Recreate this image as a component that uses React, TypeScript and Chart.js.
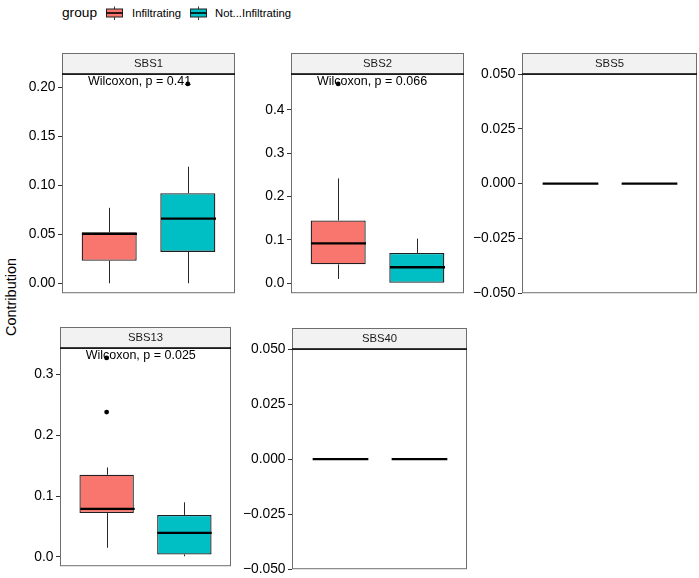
import React, { useEffect, useRef } from 'react';
import { Chart, registerables } from 'chart.js';

Chart.register(...registerables);

const FONT = "'Liberation Sans', Arial, Helvetica, sans-serif";

const categories = ['Infiltrating', 'Not...Infiltrating'];
const groupColors = ['#F8766D', '#00BFC4'];
const panelNames = ['SBS1', 'SBS2', 'SBS5', 'SBS13', 'SBS40'];

// five-number summaries: [lower whisker, q1, median, q3, upper whisker]
const sbs1Infiltrating = [0.0, 0.023, 0.0505, 0.052, 0.077];
const sbs1NotInfiltrating = [0.0, 0.032, 0.066, 0.092, 0.119];
const sbs1OutliersInfiltrating: number[] = [];
const sbs1OutliersNotInfiltrating = [0.2035];

const sbs2Infiltrating = [0.01, 0.0436, 0.092, 0.145, 0.242];
const sbs2NotInfiltrating = [0.0, 0.0, 0.037, 0.07, 0.103];
const sbs2OutliersInfiltrating = [0.46];
const sbs2OutliersNotInfiltrating: number[] = [];

const sbs5Infiltrating = [0, 0, 0, 0, 0];
const sbs5NotInfiltrating = [0, 0, 0, 0, 0];

const sbs13Infiltrating = [0.015, 0.072, 0.079, 0.135, 0.147];
const sbs13NotInfiltrating = [0.001, 0.004, 0.0396, 0.069, 0.0897];
const sbs13OutliersInfiltrating = [0.327, 0.238];
const sbs13OutliersNotInfiltrating: number[] = [];

const sbs40Infiltrating = [0, 0, 0, 0, 0];
const sbs40NotInfiltrating = [0, 0, 0, 0, 0];

const sbs1Ticks = [0, 0.05, 0.1, 0.15, 0.2];
const sbs1TickLabels = ['0.00', '0.05', '0.10', '0.15', '0.20'];
const sbs2Ticks = [0, 0.1, 0.2, 0.3, 0.4];
const sbs2TickLabels = ['0.0', '0.1', '0.2', '0.3', '0.4'];
const zeroTicks = [-0.05, -0.025, 0, 0.025, 0.05];
const zeroTickLabels = ['\u22120.050', '\u22120.025', '0.000', '0.025', '0.050'];
const sbs13Ticks = [0, 0.1, 0.2, 0.3];
const sbs13TickLabels = ['0.0', '0.1', '0.2', '0.3'];

const pLabels = ['Wilcoxon, p = 0.41', 'Wilcoxon, p = 0.066', '', 'Wilcoxon, p = 0.025', ''];

interface Frame { l: number; r: number; st: number; t: number; b: number }
interface PanelSpec {
  name: string;
  groups: number[][];
  outliers: number[][];
  ticks: number[];
  tickLabels: string[];
  pLabel: string;
  frame: Frame;
}

const frames: Frame[] = [
  { l: 62, r: 236.5, st: 53, t: 74, b: 294.3 },
  { l: 291, r: 466, st: 53, t: 74, b: 294.3 },
  { l: 522, r: 697, st: 53, t: 74, b: 294 },
  { l: 60, r: 233.3, st: 326.7, t: 347.7, b: 567.3 },
  { l: 291.7, r: 466.7, st: 328.3, t: 349.3, b: 570 },
];

const panels: PanelSpec[] = [
  {
    name: panelNames[0],
    groups: [sbs1Infiltrating, sbs1NotInfiltrating],
    outliers: [sbs1OutliersInfiltrating, sbs1OutliersNotInfiltrating],
    ticks: sbs1Ticks, tickLabels: sbs1TickLabels, pLabel: pLabels[0], frame: frames[0],
  },
  {
    name: panelNames[1],
    groups: [sbs2Infiltrating, sbs2NotInfiltrating],
    outliers: [sbs2OutliersInfiltrating, sbs2OutliersNotInfiltrating],
    ticks: sbs2Ticks, tickLabels: sbs2TickLabels, pLabel: pLabels[1], frame: frames[1],
  },
  {
    name: panelNames[2],
    groups: [sbs5Infiltrating, sbs5NotInfiltrating],
    outliers: [[], []],
    ticks: zeroTicks, tickLabels: zeroTickLabels, pLabel: pLabels[2], frame: frames[2],
  },
  {
    name: panelNames[3],
    groups: [sbs13Infiltrating, sbs13NotInfiltrating],
    outliers: [sbs13OutliersInfiltrating, sbs13OutliersNotInfiltrating],
    ticks: sbs13Ticks, tickLabels: sbs13TickLabels, pLabel: pLabels[3], frame: frames[3],
  },
  {
    name: panelNames[4],
    groups: [sbs40Infiltrating, sbs40NotInfiltrating],
    outliers: [[], []],
    ticks: zeroTicks, tickLabels: zeroTickLabels, pLabel: pLabels[4], frame: frames[4],
  },
];

const AX = 58;
const PAD_BOTTOM = 10;

function Panel({ spec }: { spec: PanelSpec }) {
  const ref = useRef<HTMLCanvasElement | null>(null);
  const f = spec.frame;
  const left = Math.round(f.l) - AX;
  const top = Math.round(f.st) - 2;
  const width = Math.round(f.r) - Math.round(f.l) + AX + 2;
  const height = Math.round(f.b) - top + PAD_BOTTOM;
  const padTop = Math.round(f.t) - top;
  const stripH = Math.round(f.t) - Math.round(f.st);

  useEffect(() => {
    if (!ref.current) return;
    const all = [...spec.groups.flat(), ...spec.outliers.flat()];
    const lo = Math.min(...all);
    const hi = Math.max(...all);
    const span = hi - lo;
    const yMin = span === 0 ? lo - 0.05 : lo - 0.05 * span;
    const yMax = span === 0 ? hi + 0.05 : hi + 0.05 * span;

    const panelPlugin = {
      id: 'panel_' + spec.name,
      afterDatasetsDraw(chart: any) {
        const { ctx, chartArea: a } = chart;
        const xs = chart.scales.x;
        const ys = chart.scales.y;
        const half = xs.getPixelForValue(1.35) - xs.getPixelForValue(1);
        spec.groups.forEach((s, i) => {
          const cx = Math.round(xs.getPixelForValue(i + 1)) + 0.5;
          ctx.save();
          ctx.strokeStyle = '#262626';
          ctx.lineWidth = 1;
          ctx.beginPath();
          ctx.moveTo(cx, ys.getPixelForValue(s[3]));
          ctx.lineTo(cx, ys.getPixelForValue(s[4]));
          ctx.moveTo(cx, ys.getPixelForValue(s[1]));
          ctx.lineTo(cx, ys.getPixelForValue(s[0]));
          ctx.stroke();
          ctx.strokeStyle = '#000000';
          ctx.lineWidth = 2.3;
          ctx.beginPath();
          const my = ys.getPixelForValue(s[2]);
          ctx.moveTo(cx - half, my);
          ctx.lineTo(cx + half, my);
          ctx.stroke();
          ctx.restore();
        });
        if (spec.pLabel) {
          ctx.save();
          ctx.font = `12.5px ${FONT}`;
          ctx.fillStyle = '#000000';
          ctx.textAlign = 'left';
          ctx.textBaseline = 'middle';
          ctx.fillText(spec.pLabel, xs.getPixelForValue(0.73), a.top + 7.5);
          ctx.restore();
        }
      },
      afterDraw(chart: any) {
        const { ctx, chartArea: a } = chart;
        ctx.save();
        ctx.strokeStyle = '#6E6E6E';
        ctx.lineWidth = 1;
        ctx.strokeRect(a.left + 0.5, a.top + 0.5, a.right - a.left - 1, a.bottom - a.top - 1);
        ctx.fillStyle = '#F2F2F2';
        ctx.fillRect(a.left, a.top - stripH, a.right - a.left, stripH);
        ctx.strokeRect(a.left + 0.5, a.top - stripH + 0.5, a.right - a.left - 1, stripH);
        ctx.strokeStyle = '#000000';
        ctx.lineWidth = 1.6;
        ctx.beginPath();
        ctx.moveTo(a.left, a.top);
        ctx.lineTo(a.right, a.top);
        ctx.stroke();
        ctx.fillStyle = '#1A1A1A';
        ctx.font = `11.3px ${FONT}`;
        ctx.textAlign = 'center';
        ctx.textBaseline = 'middle';
        ctx.fillText(spec.name, (a.left + a.right) / 2, a.top - stripH / 2 + 0.5);
        ctx.restore();
      },
    };

    const chart = new Chart(ref.current, {
      type: 'bar',
      data: {
        labels: categories,
        datasets: [
          {
            type: 'bar',
            label: 'box',
            data: spec.groups.map((s, i) => ({ x: i + 1, y: [s[1], s[3]] })) as any,
            backgroundColor: groupColors,
            borderColor: '#1F1F1F',
            borderWidth: 1.3,
            borderSkipped: false,
            barPercentage: 0.7,
            categoryPercentage: 1,
            order: 2,
          } as any,
          {
            type: 'scatter',
            label: 'outliers',
            data: spec.outliers.flatMap((o, i) => o.map((v) => ({ x: i + 1, y: v }))),
            pointRadius: 2.4,
            pointBackgroundColor: '#000000',
            pointBorderWidth: 0,
            showLine: false,
            order: 1,
          } as any,
        ],
      },
      options: {
        animation: false,
        responsive: false,
        maintainAspectRatio: false,
        layout: { padding: { left: 0, right: 2, top: padTop, bottom: PAD_BOTTOM } },
        plugins: { legend: { display: false }, tooltip: { enabled: false }, title: { display: false } },
        scales: {
          x: {
            type: 'linear', min: 0.4, max: 2.6, display: false, offset: false,
            afterBuildTicks: (s: any) => { s.ticks = categories.map((_c, i) => ({ value: i + 1 })); },
          },
          y: {
            type: 'linear',
            min: yMin,
            max: yMax,
            afterFit: (s: any) => { s.width = AX; },
            afterBuildTicks: (s: any) => { s.ticks = spec.ticks.map((v) => ({ value: v })); },
            ticks: {
              callback: (_v: any, i: number) => spec.tickLabels[i],
              font: { family: FONT, size: 13.8 },
              color: '#000000',
              padding: 2.5,
              autoSkip: false,
            },
            grid: { drawOnChartArea: false, drawTicks: true, tickLength: 4, color: '#333333' },
            border: { display: false },
          },
        },
      } as any,
      plugins: [panelPlugin],
    });
    return () => chart.destroy();
  }, [spec]);

  return (
    <canvas
      ref={ref}
      width={width}
      height={height}
      style={{ position: 'absolute', left, top, width, height }}
    />
  );
}

function LegendGlyph({ color, left }: { color: string; left: number }) {
  return (
    <svg width={18} height={15} style={{ position: 'absolute', left, top: 6 }}>
      <line x1={8.5} y1={0.5} x2={8.5} y2={3} stroke="#333" strokeWidth={1} />
      <rect x={0.5} y={3} width={16} height={8} fill={color} stroke="#222" strokeWidth={1} />
      <line x1={0.5} y1={7} x2={16.5} y2={7} stroke="#000" strokeWidth={1.6} />
      <line x1={8.5} y1={11} x2={8.5} y2={14} stroke="#333" strokeWidth={1} />
    </svg>
  );
}

export default function App() {
  const textStyle = (left: number, size: number): React.CSSProperties => ({
    position: 'absolute', left, top: 5, lineHeight: '16px', fontSize: size,
    fontFamily: FONT, color: '#000', whiteSpace: 'nowrap',
  });
  return (
    <div style={{ position: 'absolute', left: 0, top: 0, width: 699, height: 578, background: '#fff', overflow: 'hidden' }}>
      <div style={textStyle(62, 13.7)}>group</div>
      <LegendGlyph color={groupColors[0]} left={105.5} />
      <div style={textStyle(132, 11.3)}>{categories[0]}</div>
      <LegendGlyph color={groupColors[1]} left={189.5} />
      <div style={textStyle(215, 11.3)}>{categories[1]}</div>
      <div
        style={{
          position: 'absolute', left: 11 - 60, top: 297 - 8, width: 120, height: 16,
          lineHeight: '16px', textAlign: 'center', fontSize: 14.5, fontFamily: FONT,
          color: '#000', transform: 'rotate(-90deg)',
        }}
      >
        Contribution
      </div>
      {panels.map((p) => (
        <Panel key={p.name} spec={p} />
      ))}
    </div>
  );
}
